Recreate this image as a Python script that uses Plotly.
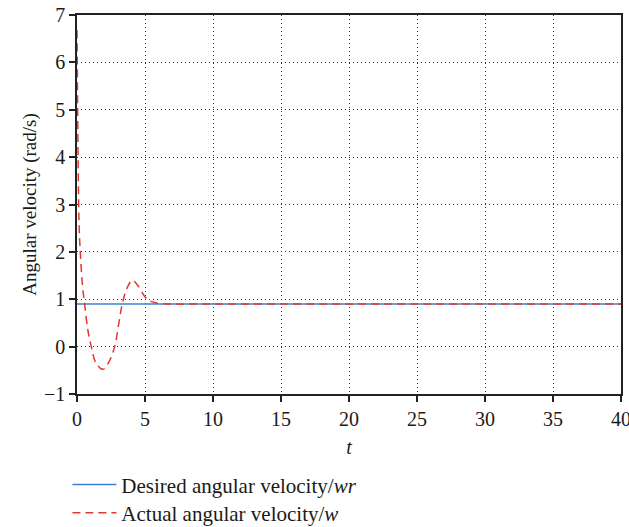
import plotly.graph_objects as go

# Desired angular velocity (constant)
t_desired = [0, 40]
w_desired = [0.9, 0.9]

# Actual angular velocity
t_actual = [0, 0.03, 0.06, 0.1, 0.15, 0.24, 0.4, 0.56, 0.8, 1.05, 1.4, 1.9, 2.3, 2.77, 3.05,
            3.33, 3.7, 4.07, 4.5, 5.0, 5.4, 5.84, 7, 10, 20, 30, 40]
w_actual = [6.68, 5.6, 4.6, 3.5, 2.6, 2.0, 1.3, 0.9, 0.35, 0.0, -0.35, -0.48, -0.35, 0.0, 0.45,
            0.9, 1.25, 1.4, 1.28, 1.05, 0.96, 0.92, 0.9, 0.9, 0.9, 0.9, 0.9]

x_ticks = [0, 5, 10, 15, 20, 25, 30, 35, 40]
y_ticks = [-1, 0, 1, 2, 3, 4, 5, 6, 7]

FONT = "Liberation Serif"
TXT = "#1a1a1a"

fig = go.Figure()
fig.add_trace(go.Scatter(x=t_desired, y=w_desired, mode="lines",
                         line=dict(color="#3b7fd4", width=1.5),
                         name="Desired angular velocity/<i>wr</i>", legend="legend"))
fig.add_trace(go.Scatter(x=t_actual, y=w_actual, mode="lines", line_shape="spline",
                         line=dict(color="#e03a2f", width=1.5, dash="8px,5px"),
                         name="Actual angular velocity/<i>w</i>", legend="legend2"))

axis_common = dict(showline=True, linecolor="#222", linewidth=1.5, mirror=True,
                   ticks="outside", ticklen=6, tickcolor="#222", tickwidth=1.5,
                   showgrid=True, gridcolor="#333", griddash="1px,3px", gridwidth=1,
                   zeroline=False, automargin=False, ticklabeloverflow="allow",
                   tickfont=dict(family=FONT, size=20, color=TXT))

fig.update_xaxes(range=[0, 40], tickvals=x_ticks, ticktext=[str(v) for v in x_ticks],
                 title=dict(text="<i>t</i>", font=dict(family=FONT, size=20, color=TXT), standoff=11),
                 **axis_common)
fig.update_yaxes(range=[-1, 7], tickvals=y_ticks,
                 ticktext=[("\u22121" if v == -1 else str(v)) for v in y_ticks],
                 title=dict(text="Angular velocity (rad/s)", font=dict(family=FONT, size=19, color=TXT), standoff=2),
                 **axis_common)

leg_common = dict(x=-0.0177, xanchor="left", yanchor="middle",
                  font=dict(family=FONT, size=21, color=TXT),
                  bgcolor="rgba(0,0,0,0)", itemwidth=44)

fig.update_layout(
    width=629, height=527,
    margin=dict(l=77, r=8, t=15, b=133, autoexpand=False),
    plot_bgcolor="white", paper_bgcolor="white",
    font=dict(family=FONT, size=20, color=TXT),
    legend=dict(y=-0.240, **leg_common),
    legend2=dict(y=-0.314, **leg_common),
    showlegend=True,
)

fig.write_html("out.html", config={"displayModeBar": False},
               post_script="document.body.style.margin='0';document.body.style.overflow='hidden';")
